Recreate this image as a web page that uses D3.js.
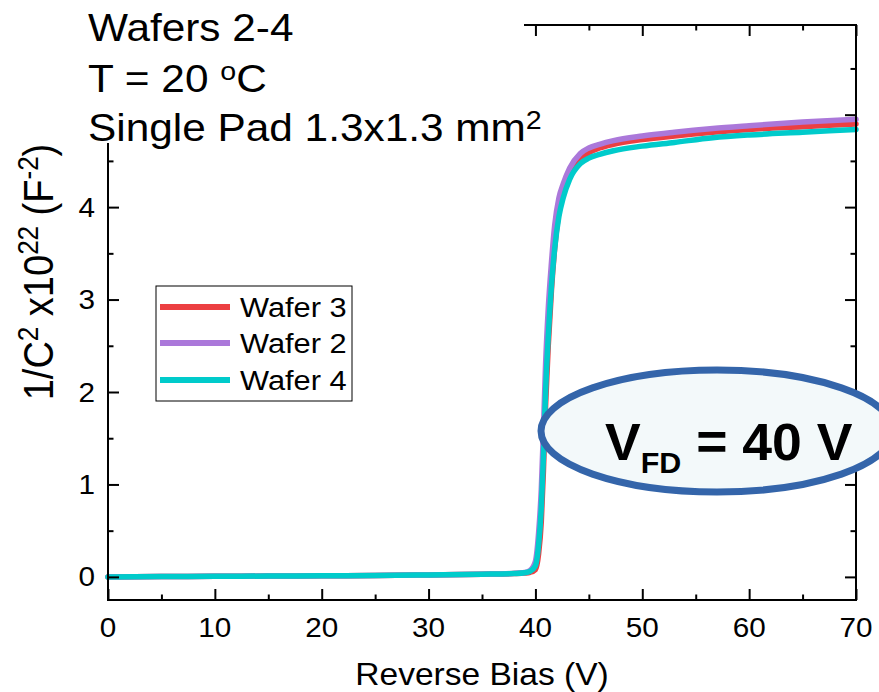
<!DOCTYPE html>
<html>
<head>
<meta charset="utf-8">
<script src="https://cdn.jsdelivr.net/npm/d3@7"></script>
<style>
  html, body { margin: 0; padding: 0; background: #fff; }
  svg { display: block; font-family: "Liberation Sans", Arial, sans-serif; }
</style>
</head>
<body>
<svg id="chart" width="879" height="692"></svg>
<script>
// Reverse bias sweep (V), shared by all three wafers
const bias = [0, 5, 10, 15, 20, 25, 30, 35, 38, 39, 39.5, 40, 40.3, 40.55, 40.75, 40.95,
  41.2, 41.5, 41.8, 42.2, 42.6, 43.2, 44.2, 45, 46, 47.3, 50, 53, 56.6, 60, 65, 70];

// 1/C^2 in units of 1e22 F^-2
const wafer3 = [0, 0.003, 0.006, 0.009, 0.012, 0.016, 0.021, 0.029, 0.036, 0.042, 0.05, 0.08,
  0.25, 0.6, 1.15, 1.85, 2.5, 3.1, 3.55, 3.95, 4.18, 4.37, 4.52, 4.59, 4.64, 4.68, 4.73,
  4.77, 4.81, 4.84, 4.87, 4.90];
const wafer2 = [0, 0.003, 0.006, 0.009, 0.012, 0.016, 0.021, 0.029, 0.038, 0.048, 0.07, 0.17,
  0.48, 0.95, 1.6, 2.3, 2.9, 3.4, 3.8, 4.1, 4.25, 4.42, 4.58, 4.64, 4.68, 4.72, 4.77,
  4.81, 4.85, 4.88, 4.92, 4.95];
const wafer4 = [0, 0.003, 0.006, 0.009, 0.012, 0.016, 0.021, 0.029, 0.037, 0.045, 0.06, 0.12,
  0.35, 0.75, 1.3, 2.0, 2.6, 3.15, 3.55, 3.9, 4.1, 4.3, 4.47, 4.53, 4.57, 4.61, 4.66,
  4.70, 4.75, 4.78, 4.81, 4.84];

const seriesNames = ["Wafer 3", "Wafer 2", "Wafer 4"];
const seriesColors = ["#ec3f42", "#ab78da", "#00cbcb"];
const seriesValues = [wafer3, wafer2, wafer4];

const xTicks = [0, 10, 20, 30, 40, 50, 60, 70];
const yTicks = [0, 1, 2, 3, 4];
const titleLines = ["Wafers 2-4", "T = 20 ", "Single Pad 1.3x1.3 mm"];

const SX = 1.1; // horizontal glyph stretch

const svg = d3.select("#chart");
const x = d3.scaleLinear().domain([0, 70]).range([108, 856]);
const y = d3.scaleLinear().domain([-0.25, 5.97]).range([600, 25]);

const plot = svg.append("g");

// data curves
const line = d3.line()
  .x((d, i) => x(bias[i]))
  .y(d => y(d))
  .curve(d3.curveMonotoneX);

seriesValues.forEach((vals, k) => {
  plot.append("path")
    .datum(vals)
    .attr("d", line)
    .attr("fill", "none")
    .attr("stroke", seriesColors[k])
    .attr("stroke-width", 5.5)
    .attr("stroke-linejoin", "round")
    .attr("stroke-linecap", "round");
});

// axes: ticks drawn inward on all four sides
const majorLen = 11, minorLen = 5.5;
const xMinor = d3.range(5, 70, 10);
const yMinor = d3.range(0.5, 6, 1);
const yMajorAll = [0, 1, 2, 3, 4, 5];

function drawAxis(g, axis) {
  g.call(axis);
  g.select(".domain").remove();
  g.selectAll(".tick line").attr("stroke", "#000").attr("stroke-width", 2);
}

const bottomMajor = svg.append("g").attr("transform", `translate(0,600)`);
drawAxis(bottomMajor, d3.axisBottom(x).tickValues(xTicks).tickSize(-majorLen).tickFormat(""));
const bottomMinor = svg.append("g").attr("transform", `translate(0,600)`);
drawAxis(bottomMinor, d3.axisBottom(x).tickValues(xMinor).tickSize(-minorLen).tickFormat(""));

const topMajor = svg.append("g").attr("transform", `translate(0,25)`);
drawAxis(topMajor, d3.axisTop(x).tickValues(xTicks).tickSize(-majorLen).tickFormat(""));
const topMinor = svg.append("g").attr("transform", `translate(0,25)`);
drawAxis(topMinor, d3.axisTop(x).tickValues(xMinor).tickSize(-minorLen).tickFormat(""));

const leftMajor = svg.append("g").attr("transform", `translate(108,0)`);
drawAxis(leftMajor, d3.axisLeft(y).tickValues(yMajorAll).tickSize(-majorLen).tickFormat(""));
const leftMinor = svg.append("g").attr("transform", `translate(108,0)`);
drawAxis(leftMinor, d3.axisLeft(y).tickValues(yMinor).tickSize(-minorLen).tickFormat(""));

const rightMajor = svg.append("g").attr("transform", `translate(856,0)`);
drawAxis(rightMajor, d3.axisRight(y).tickValues(yMajorAll).tickSize(-majorLen).tickFormat(""));
const rightMinor = svg.append("g").attr("transform", `translate(856,0)`);
drawAxis(rightMinor, d3.axisRight(y).tickValues(yMinor).tickSize(-minorLen).tickFormat(""));

// frame
svg.append("rect")
  .attr("x", x(0)).attr("y", y(5.97))
  .attr("width", x(70) - x(0)).attr("height", y(-0.25) - y(5.97))
  .attr("fill", "none").attr("stroke", "#000").attr("stroke-width", 2);

// tick labels
function stretchedText(g, tx, ty, str, size, anchor) {
  return g.append("text")
    .attr("transform", `translate(${tx},${ty}) scale(${SX},1)`)
    .attr("text-anchor", anchor || "start")
    .attr("font-size", size)
    .attr("fill", "#000")
    .text(str);
}

xTicks.forEach(v => stretchedText(svg, x(v), 636.5, String(v), 27, "middle"));
yTicks.forEach(v => stretchedText(svg, 95, y(v) + 9.6, String(v), 27, "end"));

// axis titles
stretchedText(svg, 482, 685, "Reverse Bias (V)", 30.5, "middle");

const yl = svg.append("text")
  .attr("transform", `translate(53,272) rotate(-90) scale(1,${SX})`)
  .attr("text-anchor", "middle")
  .attr("font-size", 38)
  .attr("fill", "#000");
yl.append("tspan").text("1/C");
yl.append("tspan").attr("font-size", 26).attr("dy", -14).text("2");
yl.append("tspan").attr("dy", 14).text(" x10");
yl.append("tspan").attr("font-size", 26).attr("dy", -14).text("22");
yl.append("tspan").attr("dy", 14).text(" (F");
yl.append("tspan").attr("font-size", 26).attr("dy", -14).text("-2");
yl.append("tspan").attr("dy", 14).text(")");

// header block sits on an opaque backdrop over the frame corner
svg.append("rect")
  .attr("x", 80).attr("y", 0).attr("width", 444).attr("height", 143)
  .attr("fill", "#fff");

const t1 = stretchedText(svg, 88, 41, titleLines[0], 38.5);
const t2 = stretchedText(svg, 88, 91.5, titleLines[1], 38.5);
t2.append("tspan").attr("font-size", 26).attr("dy", -12).text("o");
t2.append("tspan").attr("dy", 12).text("C");
const t3 = stretchedText(svg, 88, 141, titleLines[2], 38.5);
t3.append("tspan").attr("font-size", 26).attr("dy", -12).text("2");

// legend
const lg = svg.append("g");
lg.append("rect")
  .attr("x", 156).attr("y", 286).attr("width", 196).attr("height", 115)
  .attr("fill", "#fff").attr("stroke", "#000").attr("stroke-width", 1);
const legendY = [307, 343, 380];
seriesNames.forEach((name, k) => {
  lg.append("line")
    .attr("x1", 160).attr("x2", 230)
    .attr("y1", legendY[k]).attr("y2", legendY[k])
    .attr("stroke", seriesColors[k]).attr("stroke-width", 6);
  stretchedText(lg, 240, legendY[k] + 10, name, 28);
});

// full-depletion annotation
const ann = svg.append("g");
ann.append("ellipse")
  .attr("cx", 717).attr("cy", 431).attr("rx", 176).attr("ry", 61)
  .attr("fill", "#f3f9fa").attr("stroke", "#3465aa").attr("stroke-width", 7);
const at = ann.append("text")
  .attr("transform", `translate(605,460) scale(1.05,1)`)
  .attr("font-size", 51).attr("font-weight", "bold").attr("fill", "#000");
at.append("tspan").text("V");
at.append("tspan").attr("font-size", 29).attr("dy", 13).text("FD");
at.append("tspan").attr("dy", -13).text(" = 40 V");
</script>
</body>
</html>
